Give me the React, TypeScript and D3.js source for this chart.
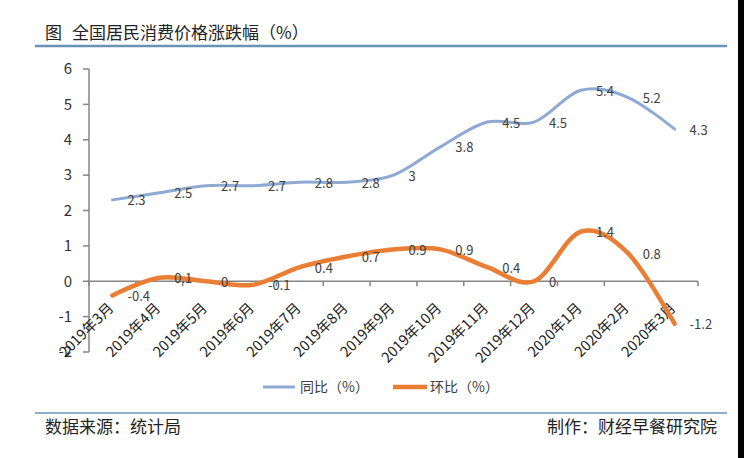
import * as d3 from "d3";

// 月份类别
const months = [
  "2019年3月", "2019年4月", "2019年5月", "2019年6月", "2019年7月",
  "2019年8月", "2019年9月", "2019年10月", "2019年11月", "2019年12月",
  "2020年1月", "2020年2月", "2020年3月",
];
// 同比（%）
const yoy = [2.3, 2.5, 2.7, 2.7, 2.8, 2.8, 3, 3.8, 4.5, 4.5, 5.4, 5.2, 4.3];
// 环比（%）
const mom = [-0.4, 0.1, 0, -0.1, 0.4, 0.7, 0.9, 0.9, 0.4, 0, 1.4, 0.8, -1.2];
const yTicks = [-2, -1, 0, 1, 2, 3, 4, 5, 6];

const W = 744;
const H = 458;
const FONT = '"Noto Sans CJK SC", "Noto Sans", sans-serif';
const BLUE = "#8FA9D2";
const ORANGE = "#EA7E35";
const AXIS = "#868686";
const RULE = "#6A92B4";

export default function App() {
  const x = d3.scaleBand<string>().domain(months).range([89, 698]).padding(0);
  const y = d3.scaleLinear().domain([-2, 6]).range([352, 69]);
  const cx = (i: number) => (x(months[i]) || 0) + x.bandwidth() / 2;

  const line = d3
    .line<number>()
    .x((_, i) => cx(i))
    .y((d) => y(d))
    .curve(d3.curveCardinal.tension(0));

  // 刻度线位于类别之间
  const bounds = months.map((m) => x(m) || 0).concat([x.range()[1]]);

  const fmt = (v: number) => String(v);

  return (
    <svg
      width={W}
      height={H}
      style={{ position: "absolute", left: 0, top: 0, background: "#fff" }}
      fontFamily={FONT}
    >
      <rect x={0} y={0} width={W} height={H} fill="#fff" />

      {/* 标题 */}
      <text x={45} y={39} fontSize={17} fill="#222">图</text>
      <text x={72} y={39} fontSize={17} fill="#222">全国居民消费价格涨跌幅（%）</text>
      <line x1={35} x2={727} y1={46} y2={46} stroke={RULE} strokeWidth={2.5} />

      {/* y轴 */}
      <line x1={89} x2={89} y1={y(6)} y2={y(-2)} stroke={AXIS} strokeWidth={1.5} />
      {yTicks.map((t) => (
        <g key={t}>
          <line x1={83} x2={89} y1={y(t)} y2={y(t)} stroke={AXIS} strokeWidth={1.5} />
          <text
            x={72}
            y={y(t)}
            dy="0.35em"
            textAnchor="end"
            fontSize={15}
            fill="#333"
          >
            {t}
          </text>
        </g>
      ))}

      {/* x轴 */}
      <line x1={89} x2={698} y1={y(0)} y2={y(0)} stroke={AXIS} strokeWidth={1.5} />
      {bounds.map((b, i) => (
        <line key={i} x1={b} x2={b} y1={y(0)} y2={y(0) + 5} stroke={AXIS} strokeWidth={1.5} />
      ))}
      {months.map((m, i) => (
        <text
          key={m}
          transform={`translate(${cx(i) + 2},${309}) rotate(-45)`}
          textAnchor="end"
          fontSize={14.5}
          fill="#222"
        >
          {m}
        </text>
      ))}

      {/* 折线 */}
      <path d={line(yoy) || ""} fill="none" stroke={BLUE} strokeWidth={3} strokeLinecap="round" />
      <path d={line(mom) || ""} fill="none" stroke={ORANGE} strokeWidth={4.5} strokeLinecap="round" />

      {/* 数据标签 */}
      {yoy.map((v, i) => (
        <text key={"a" + i} x={cx(i) + 15} y={y(v) + 1} dy="0.35em" fontSize={13} fill="#404040">
          {fmt(v)}
        </text>
      ))}
      {mom.map((v, i) => (
        <text key={"b" + i} x={cx(i) + 15} y={y(v) + 1} dy="0.35em" fontSize={13} fill="#404040">
          {fmt(v)}
        </text>
      ))}

      {/* 图例 */}
      <line x1={263} x2={295} y1={387} y2={387} stroke={BLUE} strokeWidth={3} />
      <text x={300} y={387} dy="0.35em" fontSize={14} fill="#404040">同比（%）</text>
      <line x1={393} x2={427} y1={387} y2={387} stroke={ORANGE} strokeWidth={4.5} />
      <text x={430} y={387} dy="0.35em" fontSize={14} fill="#404040">环比（%）</text>

      {/* 底部 */}
      <line x1={35} x2={727} y1={413} y2={413} stroke={RULE} strokeWidth={1.5} />
      <text x={45} y={433} fontSize={17} fill="#222">数据来源：统计局</text>
      <text x={717} y={433} textAnchor="end" fontSize={17} fill="#222">制作：财经早餐研究院</text>

      <rect x={738} y={0} width={6} height={H} fill="#000" />
    </svg>
  );
}
